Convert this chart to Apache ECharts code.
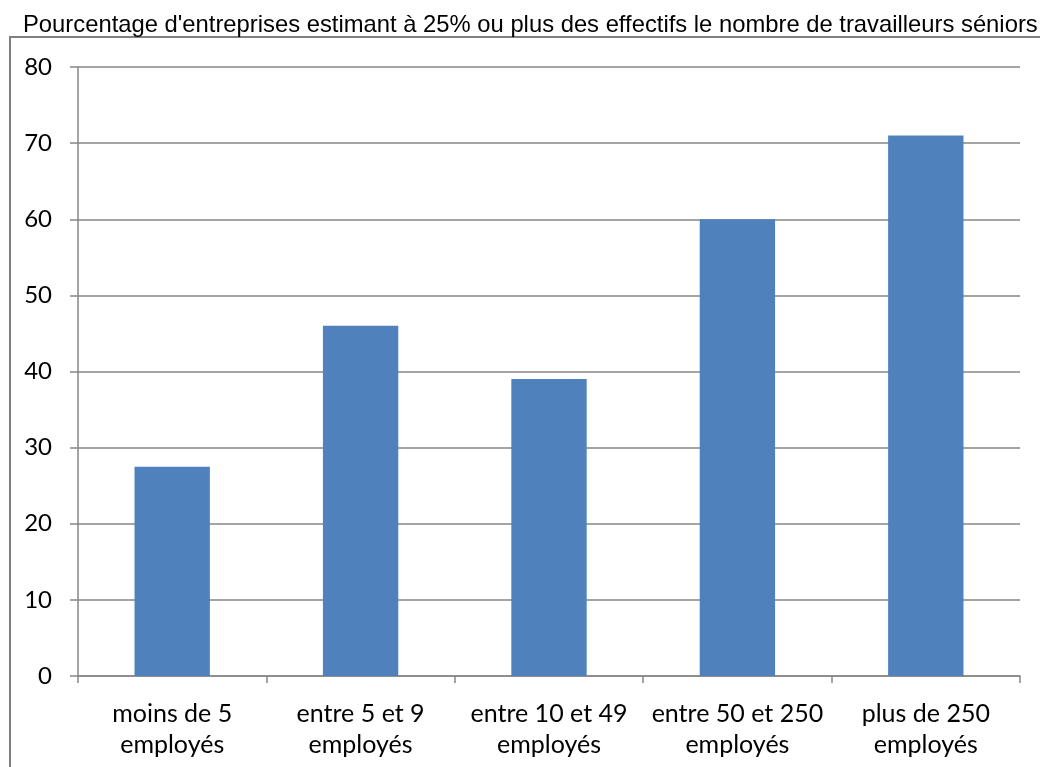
<!DOCTYPE html>
<html>
<head>
<meta charset="utf-8">
<title>Travailleurs séniors</title>
<script src="https://cdn.jsdelivr.net/npm/echarts@6/dist/echarts.min.js"></script>
<style>
  html, body { margin: 0; padding: 0; background: #fff; }
  #main { width: 1040px; height: 767px; }
</style>
</head>
<body>
<div id="main"></div>
<script>
// données
const categories = ['moins de 5\nemployés', 'entre 5 et 9\nemployés', 'entre 10 et 49\nemployés', 'entre 50 et 250\nemployés', 'plus de 250\nemployés']
const pourcentages = [27.5, 46, 39, 60, 71]
const yTicks = [0, 10, 20, 30, 40, 50, 60, 70, 80]

const chart = echarts.init(document.getElementById('main'))

const option = {
  backgroundColor: '#fff',
  animation: false,
  title: {
    text: "Pourcentage d'entreprises estimant à 25% ou plus des effectifs le nombre de travailleurs séniors",
    left: 18,
    top: 8,
    textStyle: {
      fontFamily: 'Liberation Sans, Arial',
      fontSize: 23.8,
      fontWeight: 'normal',
      color: '#000'
    }
  },
  // cadre du graphique (haut et gauche)
  graphic: [
    { type: 'line', shape: { x1: 9, y1: 37, x2: 1040, y2: 37 }, style: { stroke: '#7f7f7f', lineWidth: 2 } },
    { type: 'line', shape: { x1: 10, y1: 37, x2: 10, y2: 767 }, style: { stroke: '#7f7f7f', lineWidth: 2 } }
  ],
  grid: {
    left: 78,
    right: 20,
    top: 67,
    bottom: 91
  },
  xAxis: {
    type: 'category',
    data: categories,
    axisLine: { lineStyle: { color: '#868686', width: 1.5 } },
    axisTick: { show: true, length: 7, lineStyle: { color: '#868686', width: 1.5 } },
    axisLabel: {
      color: '#000',
      fontFamily: 'Lato',
      fontSize: 25,
      lineHeight: 31,
      margin: 22,
      interval: 0
    }
  },
  yAxis: {
    type: 'value',
    min: yTicks[0],
    max: yTicks[yTicks.length - 1],
    interval: 10,
    axisLine: { show: true, lineStyle: { color: '#868686', width: 1.5 } },
    axisTick: { show: true, length: 8, lineStyle: { color: '#868686', width: 1.5 } },
    splitLine: { lineStyle: { color: '#868686', width: 1.5 } },
    axisLabel: {
      color: '#000',
      fontFamily: 'Lato',
      fontSize: 24,
      margin: 26
    }
  },
  series: [
    {
      type: 'bar',
      data: pourcentages,
      barWidth: '40%',
      itemStyle: { color: '#4f81bd' }
    }
  ]
}

chart.setOption(option)
</script>
</body>
</html>
